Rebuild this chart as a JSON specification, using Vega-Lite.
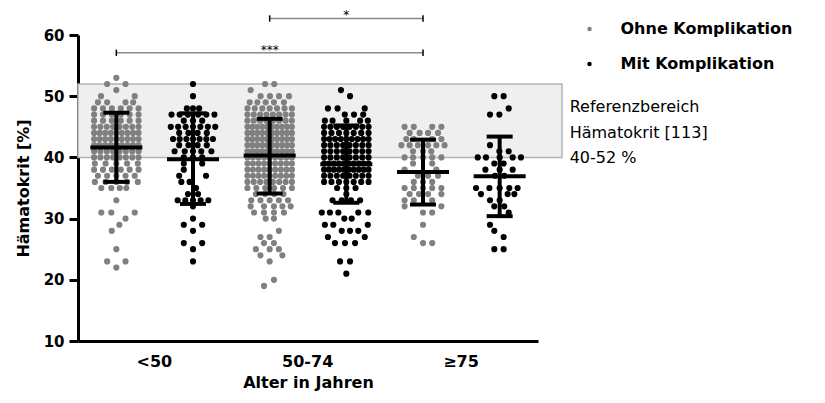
{
"$schema": "https://vega.github.io/schema/vega-lite/v6.json",
"width": 460, "height": 306,
"autosize": {"type": "none"},
"padding": {"left": 78, "top": 35, "right": 287, "bottom": 62},
"background": "white",
"config": {"view": {"stroke": null}, "font": "DejaVu Sans"},
"datasets": {
"dots": [
{"k":"A1","g":"O","v":53,"c":0},
{"k":"A1","g":"O","v":52,"c":-6},{"k":"A1","g":"O","v":52,"c":6},
{"k":"A1","g":"O","v":51,"c":0},
{"k":"A1","g":"O","v":50,"c":-10},{"k":"A1","g":"O","v":50,"c":12},
{"k":"A1","g":"O","v":49,"c":-12},{"k":"A1","g":"O","v":49,"c":-6},{"k":"A1","g":"O","v":49,"c":6},{"k":"A1","g":"O","v":49,"c":11},
{"k":"A1","g":"O","v":48,"c":-14.5},{"k":"A1","g":"O","v":48,"c":-8.7},{"k":"A1","g":"O","v":48,"c":-2.9},{"k":"A1","g":"O","v":48,"c":2.9},{"k":"A1","g":"O","v":48,"c":8.7},{"k":"A1","g":"O","v":48,"c":14.5},
{"k":"A1","g":"O","v":47,"c":-14.5},{"k":"A1","g":"O","v":47,"c":-8.7},{"k":"A1","g":"O","v":47,"c":-2.9},{"k":"A1","g":"O","v":47,"c":2.9},{"k":"A1","g":"O","v":47,"c":8.7},{"k":"A1","g":"O","v":47,"c":14.5},
{"k":"A1","g":"O","v":46,"c":-14.5},{"k":"A1","g":"O","v":46,"c":-8.7},{"k":"A1","g":"O","v":46,"c":-2.9},{"k":"A1","g":"O","v":46,"c":2.9},{"k":"A1","g":"O","v":46,"c":8.7},{"k":"A1","g":"O","v":46,"c":14.5},
{"k":"A1","g":"O","v":45,"c":-14.5},{"k":"A1","g":"O","v":45,"c":-10.4},{"k":"A1","g":"O","v":45,"c":-6.2},{"k":"A1","g":"O","v":45,"c":-2.1},{"k":"A1","g":"O","v":45,"c":2.1},{"k":"A1","g":"O","v":45,"c":6.2},{"k":"A1","g":"O","v":45,"c":10.4},{"k":"A1","g":"O","v":45,"c":14.5},
{"k":"A1","g":"O","v":44,"c":-14.5},{"k":"A1","g":"O","v":44,"c":-10.9},{"k":"A1","g":"O","v":44,"c":-7.3},{"k":"A1","g":"O","v":44,"c":-3.6},{"k":"A1","g":"O","v":44,"c":0},{"k":"A1","g":"O","v":44,"c":3.6},{"k":"A1","g":"O","v":44,"c":7.3},{"k":"A1","g":"O","v":44,"c":10.9},{"k":"A1","g":"O","v":44,"c":14.5},
{"k":"A1","g":"O","v":43,"c":-14.5},{"k":"A1","g":"O","v":43,"c":-10.9},{"k":"A1","g":"O","v":43,"c":-7.3},{"k":"A1","g":"O","v":43,"c":-3.6},{"k":"A1","g":"O","v":43,"c":0},{"k":"A1","g":"O","v":43,"c":3.6},{"k":"A1","g":"O","v":43,"c":7.3},{"k":"A1","g":"O","v":43,"c":10.9},{"k":"A1","g":"O","v":43,"c":14.5},
{"k":"A1","g":"O","v":42,"c":-14.5},{"k":"A1","g":"O","v":42,"c":-10.9},{"k":"A1","g":"O","v":42,"c":-7.3},{"k":"A1","g":"O","v":42,"c":-3.6},{"k":"A1","g":"O","v":42,"c":0},{"k":"A1","g":"O","v":42,"c":3.6},{"k":"A1","g":"O","v":42,"c":7.3},{"k":"A1","g":"O","v":42,"c":10.9},{"k":"A1","g":"O","v":42,"c":14.5},
{"k":"A1","g":"O","v":41,"c":-14.5},{"k":"A1","g":"O","v":41,"c":-10.4},{"k":"A1","g":"O","v":41,"c":-6.2},{"k":"A1","g":"O","v":41,"c":-2.1},{"k":"A1","g":"O","v":41,"c":2.1},{"k":"A1","g":"O","v":41,"c":6.2},{"k":"A1","g":"O","v":41,"c":10.4},{"k":"A1","g":"O","v":41,"c":14.5},
{"k":"A1","g":"O","v":40,"c":-14.5},{"k":"A1","g":"O","v":40,"c":-10.4},{"k":"A1","g":"O","v":40,"c":-6.2},{"k":"A1","g":"O","v":40,"c":-2.1},{"k":"A1","g":"O","v":40,"c":2.1},{"k":"A1","g":"O","v":40,"c":6.2},{"k":"A1","g":"O","v":40,"c":10.4},{"k":"A1","g":"O","v":40,"c":14.5},
{"k":"A1","g":"O","v":39,"c":-14},{"k":"A1","g":"O","v":39,"c":-7},{"k":"A1","g":"O","v":39,"c":0},{"k":"A1","g":"O","v":39,"c":7},{"k":"A1","g":"O","v":39,"c":14},
{"k":"A1","g":"O","v":38,"c":-14.5},{"k":"A1","g":"O","v":38,"c":-8.7},{"k":"A1","g":"O","v":38,"c":-2.9},{"k":"A1","g":"O","v":38,"c":2.9},{"k":"A1","g":"O","v":38,"c":8.7},{"k":"A1","g":"O","v":38,"c":14.5},
{"k":"A1","g":"O","v":37,"c":-12},{"k":"A1","g":"O","v":37,"c":-6},{"k":"A1","g":"O","v":37,"c":0},{"k":"A1","g":"O","v":37,"c":6},{"k":"A1","g":"O","v":37,"c":12},
{"k":"A1","g":"O","v":36,"c":-14},{"k":"A1","g":"O","v":36,"c":-7},{"k":"A1","g":"O","v":36,"c":0},{"k":"A1","g":"O","v":36,"c":7},{"k":"A1","g":"O","v":36,"c":14},
{"k":"A1","g":"O","v":35,"c":-9.8},{"k":"A1","g":"O","v":35,"c":-3.3},{"k":"A1","g":"O","v":35,"c":2.2},{"k":"A1","g":"O","v":35,"c":6.5},
{"k":"A1","g":"O","v":33,"c":0},
{"k":"A1","g":"O","v":31,"c":-9.8},{"k":"A1","g":"O","v":31,"c":-3.3},{"k":"A1","g":"O","v":31,"c":12},
{"k":"A1","g":"O","v":30,"c":6},
{"k":"A1","g":"O","v":29,"c":2},
{"k":"A1","g":"O","v":28,"c":-3},
{"k":"A1","g":"O","v":25,"c":0},
{"k":"A1","g":"O","v":23,"c":-6},{"k":"A1","g":"O","v":23,"c":6},
{"k":"A1","g":"O","v":22,"c":0},

{"k":"A2","g":"M","v":52,"c":0},
{"k":"A2","g":"M","v":50,"c":0},
{"k":"A2","g":"M","v":48,"c":-4},{"k":"A2","g":"M","v":48,"c":0},{"k":"A2","g":"M","v":48,"c":4},
{"k":"A2","g":"M","v":47,"c":-14},{"k":"A2","g":"M","v":47,"c":-8.7},{"k":"A2","g":"M","v":47,"c":-3.3},{"k":"A2","g":"M","v":47,"c":3.3},{"k":"A2","g":"M","v":47,"c":8.7},{"k":"A2","g":"M","v":47,"c":14},
{"k":"A2","g":"M","v":46,"c":-6},{"k":"A2","g":"M","v":46,"c":0},{"k":"A2","g":"M","v":46,"c":6},
{"k":"A2","g":"M","v":45,"c":-14.5},{"k":"A2","g":"M","v":45,"c":-9.7},{"k":"A2","g":"M","v":45,"c":-4.8},{"k":"A2","g":"M","v":45,"c":0},{"k":"A2","g":"M","v":45,"c":4.8},{"k":"A2","g":"M","v":45,"c":9.7},{"k":"A2","g":"M","v":45,"c":14.5},
{"k":"A2","g":"M","v":44,"c":-9},{"k":"A2","g":"M","v":44,"c":-3},{"k":"A2","g":"M","v":44,"c":3},{"k":"A2","g":"M","v":44,"c":9},
{"k":"A2","g":"M","v":43,"c":-13},{"k":"A2","g":"M","v":43,"c":-8.7},{"k":"A2","g":"M","v":43,"c":-4.3},{"k":"A2","g":"M","v":43,"c":0},{"k":"A2","g":"M","v":43,"c":4.3},{"k":"A2","g":"M","v":43,"c":8.7},{"k":"A2","g":"M","v":43,"c":13},
{"k":"A2","g":"M","v":42,"c":-9},{"k":"A2","g":"M","v":42,"c":-3},{"k":"A2","g":"M","v":42,"c":3},{"k":"A2","g":"M","v":42,"c":9},
{"k":"A2","g":"M","v":41,"c":-12},{"k":"A2","g":"M","v":41,"c":-5.4},{"k":"A2","g":"M","v":41,"c":0},{"k":"A2","g":"M","v":41,"c":5.4},{"k":"A2","g":"M","v":41,"c":12},
{"k":"A2","g":"M","v":40,"c":-6},{"k":"A2","g":"M","v":40,"c":0},{"k":"A2","g":"M","v":40,"c":6},
{"k":"A2","g":"M","v":39,"c":-6},{"k":"A2","g":"M","v":39,"c":6},
{"k":"A2","g":"M","v":38,"c":-6},
{"k":"A2","g":"M","v":37,"c":-9},{"k":"A2","g":"M","v":37,"c":8.5},
{"k":"A2","g":"M","v":36,"c":-7.6},{"k":"A2","g":"M","v":36,"c":-2.2},
{"k":"A2","g":"M","v":35,"c":2},
{"k":"A2","g":"M","v":34,"c":-3.3},{"k":"A2","g":"M","v":34,"c":3.3},
{"k":"A2","g":"M","v":33,"c":-10},{"k":"A2","g":"M","v":33,"c":-5},{"k":"A2","g":"M","v":33,"c":0},{"k":"A2","g":"M","v":33,"c":5},{"k":"A2","g":"M","v":33,"c":10},
{"k":"A2","g":"M","v":32,"c":0},
{"k":"A2","g":"M","v":30,"c":0},
{"k":"A2","g":"M","v":29,"c":-6},{"k":"A2","g":"M","v":29,"c":6},
{"k":"A2","g":"M","v":28,"c":0},
{"k":"A2","g":"M","v":26,"c":-6},{"k":"A2","g":"M","v":26,"c":6},
{"k":"A2","g":"M","v":25,"c":0},
{"k":"A2","g":"M","v":23,"c":0},

{"k":"B1","g":"O","v":52,"c":-3},{"k":"B1","g":"O","v":52,"c":3},
{"k":"B1","g":"O","v":51,"c":-12.4},
{"k":"B1","g":"O","v":50,"c":-5.9},{"k":"B1","g":"O","v":50,"c":0.2},{"k":"B1","g":"O","v":50,"c":6.1},{"k":"B1","g":"O","v":50,"c":12.6},
{"k":"B1","g":"O","v":49,"c":-13},{"k":"B1","g":"O","v":49,"c":-8},{"k":"B1","g":"O","v":49,"c":-2.6},{"k":"B1","g":"O","v":49,"c":2.8},{"k":"B1","g":"O","v":49,"c":9.3},
{"k":"B1","g":"O","v":48,"c":-14.5},{"k":"B1","g":"O","v":48,"c":-9.7},{"k":"B1","g":"O","v":48,"c":-4.8},{"k":"B1","g":"O","v":48,"c":0},{"k":"B1","g":"O","v":48,"c":4.8},{"k":"B1","g":"O","v":48,"c":9.7},{"k":"B1","g":"O","v":48,"c":14.5},
{"k":"B1","g":"O","v":47,"c":-14.5},{"k":"B1","g":"O","v":47,"c":-10.4},{"k":"B1","g":"O","v":47,"c":-6.2},{"k":"B1","g":"O","v":47,"c":-2.1},{"k":"B1","g":"O","v":47,"c":2.1},{"k":"B1","g":"O","v":47,"c":6.2},{"k":"B1","g":"O","v":47,"c":10.4},{"k":"B1","g":"O","v":47,"c":14.5},
{"k":"B1","g":"O","v":46,"c":-14.5},{"k":"B1","g":"O","v":46,"c":-10.4},{"k":"B1","g":"O","v":46,"c":-6.2},{"k":"B1","g":"O","v":46,"c":-2.1},{"k":"B1","g":"O","v":46,"c":2.1},{"k":"B1","g":"O","v":46,"c":6.2},{"k":"B1","g":"O","v":46,"c":10.4},{"k":"B1","g":"O","v":46,"c":14.5},
{"k":"B1","g":"O","v":45,"c":-14.5},{"k":"B1","g":"O","v":45,"c":-11.3},{"k":"B1","g":"O","v":45,"c":-8.1},{"k":"B1","g":"O","v":45,"c":-4.8},{"k":"B1","g":"O","v":45,"c":-1.6},{"k":"B1","g":"O","v":45,"c":1.6},{"k":"B1","g":"O","v":45,"c":4.8},{"k":"B1","g":"O","v":45,"c":8.1},{"k":"B1","g":"O","v":45,"c":11.3},{"k":"B1","g":"O","v":45,"c":14.5},
{"k":"B1","g":"O","v":44,"c":-14.5},{"k":"B1","g":"O","v":44,"c":-11.3},{"k":"B1","g":"O","v":44,"c":-8.1},{"k":"B1","g":"O","v":44,"c":-4.8},{"k":"B1","g":"O","v":44,"c":-1.6},{"k":"B1","g":"O","v":44,"c":1.6},{"k":"B1","g":"O","v":44,"c":4.8},{"k":"B1","g":"O","v":44,"c":8.1},{"k":"B1","g":"O","v":44,"c":11.3},{"k":"B1","g":"O","v":44,"c":14.5},
{"k":"B1","g":"O","v":43,"c":-14.5},{"k":"B1","g":"O","v":43,"c":-11.3},{"k":"B1","g":"O","v":43,"c":-8.1},{"k":"B1","g":"O","v":43,"c":-4.8},{"k":"B1","g":"O","v":43,"c":-1.6},{"k":"B1","g":"O","v":43,"c":1.6},{"k":"B1","g":"O","v":43,"c":4.8},{"k":"B1","g":"O","v":43,"c":8.1},{"k":"B1","g":"O","v":43,"c":11.3},{"k":"B1","g":"O","v":43,"c":14.5},
{"k":"B1","g":"O","v":42,"c":-14.5},{"k":"B1","g":"O","v":42,"c":-11.3},{"k":"B1","g":"O","v":42,"c":-8.1},{"k":"B1","g":"O","v":42,"c":-4.8},{"k":"B1","g":"O","v":42,"c":-1.6},{"k":"B1","g":"O","v":42,"c":1.6},{"k":"B1","g":"O","v":42,"c":4.8},{"k":"B1","g":"O","v":42,"c":8.1},{"k":"B1","g":"O","v":42,"c":11.3},{"k":"B1","g":"O","v":42,"c":14.5},
{"k":"B1","g":"O","v":41,"c":-14.5},{"k":"B1","g":"O","v":41,"c":-11.3},{"k":"B1","g":"O","v":41,"c":-8.1},{"k":"B1","g":"O","v":41,"c":-4.8},{"k":"B1","g":"O","v":41,"c":-1.6},{"k":"B1","g":"O","v":41,"c":1.6},{"k":"B1","g":"O","v":41,"c":4.8},{"k":"B1","g":"O","v":41,"c":8.1},{"k":"B1","g":"O","v":41,"c":11.3},{"k":"B1","g":"O","v":41,"c":14.5},
{"k":"B1","g":"O","v":40,"c":-14.5},{"k":"B1","g":"O","v":40,"c":-10.9},{"k":"B1","g":"O","v":40,"c":-7.3},{"k":"B1","g":"O","v":40,"c":-3.6},{"k":"B1","g":"O","v":40,"c":0},{"k":"B1","g":"O","v":40,"c":3.6},{"k":"B1","g":"O","v":40,"c":7.3},{"k":"B1","g":"O","v":40,"c":10.9},{"k":"B1","g":"O","v":40,"c":14.5},
{"k":"B1","g":"O","v":39,"c":-14.5},{"k":"B1","g":"O","v":39,"c":-10.9},{"k":"B1","g":"O","v":39,"c":-7.3},{"k":"B1","g":"O","v":39,"c":-3.6},{"k":"B1","g":"O","v":39,"c":0},{"k":"B1","g":"O","v":39,"c":3.6},{"k":"B1","g":"O","v":39,"c":7.3},{"k":"B1","g":"O","v":39,"c":10.9},{"k":"B1","g":"O","v":39,"c":14.5},
{"k":"B1","g":"O","v":38,"c":-14.5},{"k":"B1","g":"O","v":38,"c":-10.9},{"k":"B1","g":"O","v":38,"c":-7.3},{"k":"B1","g":"O","v":38,"c":-3.6},{"k":"B1","g":"O","v":38,"c":0},{"k":"B1","g":"O","v":38,"c":3.6},{"k":"B1","g":"O","v":38,"c":7.3},{"k":"B1","g":"O","v":38,"c":10.9},{"k":"B1","g":"O","v":38,"c":14.5},
{"k":"B1","g":"O","v":37,"c":-14.5},{"k":"B1","g":"O","v":37,"c":-10.9},{"k":"B1","g":"O","v":37,"c":-7.3},{"k":"B1","g":"O","v":37,"c":-3.6},{"k":"B1","g":"O","v":37,"c":0},{"k":"B1","g":"O","v":37,"c":3.6},{"k":"B1","g":"O","v":37,"c":7.3},{"k":"B1","g":"O","v":37,"c":10.9},{"k":"B1","g":"O","v":37,"c":14.5},
{"k":"B1","g":"O","v":36,"c":-14.5},{"k":"B1","g":"O","v":36,"c":-10.4},{"k":"B1","g":"O","v":36,"c":-6.2},{"k":"B1","g":"O","v":36,"c":-2.1},{"k":"B1","g":"O","v":36,"c":2.1},{"k":"B1","g":"O","v":36,"c":6.2},{"k":"B1","g":"O","v":36,"c":10.4},{"k":"B1","g":"O","v":36,"c":14.5},
{"k":"B1","g":"O","v":35,"c":-14.5},{"k":"B1","g":"O","v":35,"c":-8.7},{"k":"B1","g":"O","v":35,"c":-2.9},{"k":"B1","g":"O","v":35,"c":2.9},{"k":"B1","g":"O","v":35,"c":8.7},{"k":"B1","g":"O","v":35,"c":14.5},
{"k":"B1","g":"O","v":34,"c":-9},{"k":"B1","g":"O","v":34,"c":-3},{"k":"B1","g":"O","v":34,"c":3},{"k":"B1","g":"O","v":34,"c":9},
{"k":"B1","g":"O","v":33,"c":-12},{"k":"B1","g":"O","v":33,"c":-6},{"k":"B1","g":"O","v":33,"c":0},{"k":"B1","g":"O","v":33,"c":6},{"k":"B1","g":"O","v":33,"c":12},
{"k":"B1","g":"O","v":32,"c":-12.4},{"k":"B1","g":"O","v":32,"c":-3.7},{"k":"B1","g":"O","v":32,"c":2.8},{"k":"B1","g":"O","v":32,"c":8.3},{"k":"B1","g":"O","v":32,"c":13.7},
{"k":"B1","g":"O","v":31,"c":-10.2},{"k":"B1","g":"O","v":31,"c":-3.7},{"k":"B1","g":"O","v":31,"c":2.8},{"k":"B1","g":"O","v":31,"c":9.3},
{"k":"B1","g":"O","v":30,"c":-2.6},{"k":"B1","g":"O","v":30,"c":2.8},
{"k":"B1","g":"O","v":28,"c":6},
{"k":"B1","g":"O","v":27,"c":-6},{"k":"B1","g":"O","v":27,"c":0},
{"k":"B1","g":"O","v":26,"c":-3.7},{"k":"B1","g":"O","v":26,"c":2.8},
{"k":"B1","g":"O","v":25,"c":-9},{"k":"B1","g":"O","v":25,"c":0},{"k":"B1","g":"O","v":25,"c":6},
{"k":"B1","g":"O","v":24,"c":-6},{"k":"B1","g":"O","v":24,"c":8.3},
{"k":"B1","g":"O","v":23,"c":0},
{"k":"B1","g":"O","v":20,"c":2.8},
{"k":"B1","g":"O","v":19,"c":-3.7},

{"k":"B2","g":"M","v":51,"c":-3.5},
{"k":"B2","g":"M","v":50,"c":2.4},
{"k":"B2","g":"M","v":48,"c":-12},{"k":"B2","g":"M","v":48,"c":-5.7},{"k":"B2","g":"M","v":48,"c":12},
{"k":"B2","g":"M","v":47,"c":-1},{"k":"B2","g":"M","v":47,"c":5},{"k":"B2","g":"M","v":47,"c":11},
{"k":"B2","g":"M","v":46,"c":-14},{"k":"B2","g":"M","v":46,"c":-9},{"k":"B2","g":"M","v":46,"c":0},{"k":"B2","g":"M","v":46,"c":9},{"k":"B2","g":"M","v":46,"c":14},
{"k":"B2","g":"M","v":45,"c":-14.5},{"k":"B2","g":"M","v":45,"c":-10.4},{"k":"B2","g":"M","v":45,"c":-6.2},{"k":"B2","g":"M","v":45,"c":-2.1},{"k":"B2","g":"M","v":45,"c":2.1},{"k":"B2","g":"M","v":45,"c":6.2},{"k":"B2","g":"M","v":45,"c":10.4},{"k":"B2","g":"M","v":45,"c":14.5},
{"k":"B2","g":"M","v":44,"c":-14.5},{"k":"B2","g":"M","v":44,"c":-9.7},{"k":"B2","g":"M","v":44,"c":-4.8},{"k":"B2","g":"M","v":44,"c":0},{"k":"B2","g":"M","v":44,"c":4.8},{"k":"B2","g":"M","v":44,"c":9.7},{"k":"B2","g":"M","v":44,"c":14.5},
{"k":"B2","g":"M","v":43,"c":-14.5},{"k":"B2","g":"M","v":43,"c":-10.9},{"k":"B2","g":"M","v":43,"c":-7.3},{"k":"B2","g":"M","v":43,"c":-3.6},{"k":"B2","g":"M","v":43,"c":0},{"k":"B2","g":"M","v":43,"c":3.6},{"k":"B2","g":"M","v":43,"c":7.3},{"k":"B2","g":"M","v":43,"c":10.9},{"k":"B2","g":"M","v":43,"c":14.5},
{"k":"B2","g":"M","v":42,"c":-14.5},{"k":"B2","g":"M","v":42,"c":-10.4},{"k":"B2","g":"M","v":42,"c":-6.2},{"k":"B2","g":"M","v":42,"c":-2.1},{"k":"B2","g":"M","v":42,"c":2.1},{"k":"B2","g":"M","v":42,"c":6.2},{"k":"B2","g":"M","v":42,"c":10.4},{"k":"B2","g":"M","v":42,"c":14.5},
{"k":"B2","g":"M","v":41,"c":-14.5},{"k":"B2","g":"M","v":41,"c":-10.4},{"k":"B2","g":"M","v":41,"c":-6.2},{"k":"B2","g":"M","v":41,"c":-2.1},{"k":"B2","g":"M","v":41,"c":2.1},{"k":"B2","g":"M","v":41,"c":6.2},{"k":"B2","g":"M","v":41,"c":10.4},{"k":"B2","g":"M","v":41,"c":14.5},
{"k":"B2","g":"M","v":40,"c":-14.5},{"k":"B2","g":"M","v":40,"c":-10.4},{"k":"B2","g":"M","v":40,"c":-6.2},{"k":"B2","g":"M","v":40,"c":-2.1},{"k":"B2","g":"M","v":40,"c":2.1},{"k":"B2","g":"M","v":40,"c":6.2},{"k":"B2","g":"M","v":40,"c":10.4},{"k":"B2","g":"M","v":40,"c":14.5},
{"k":"B2","g":"M","v":39,"c":-14.5},{"k":"B2","g":"M","v":39,"c":-11.3},{"k":"B2","g":"M","v":39,"c":-8.1},{"k":"B2","g":"M","v":39,"c":-4.8},{"k":"B2","g":"M","v":39,"c":-1.6},{"k":"B2","g":"M","v":39,"c":1.6},{"k":"B2","g":"M","v":39,"c":4.8},{"k":"B2","g":"M","v":39,"c":8.1},{"k":"B2","g":"M","v":39,"c":11.3},{"k":"B2","g":"M","v":39,"c":14.5},
{"k":"B2","g":"M","v":38,"c":-14.5},{"k":"B2","g":"M","v":38,"c":-11.3},{"k":"B2","g":"M","v":38,"c":-8.1},{"k":"B2","g":"M","v":38,"c":-4.8},{"k":"B2","g":"M","v":38,"c":-1.6},{"k":"B2","g":"M","v":38,"c":1.6},{"k":"B2","g":"M","v":38,"c":4.8},{"k":"B2","g":"M","v":38,"c":8.1},{"k":"B2","g":"M","v":38,"c":11.3},{"k":"B2","g":"M","v":38,"c":14.5},
{"k":"B2","g":"M","v":37,"c":-14.5},{"k":"B2","g":"M","v":37,"c":-10.4},{"k":"B2","g":"M","v":37,"c":-6.2},{"k":"B2","g":"M","v":37,"c":-2.1},{"k":"B2","g":"M","v":37,"c":2.1},{"k":"B2","g":"M","v":37,"c":6.2},{"k":"B2","g":"M","v":37,"c":10.4},{"k":"B2","g":"M","v":37,"c":14.5},
{"k":"B2","g":"M","v":36,"c":-14.5},{"k":"B2","g":"M","v":36,"c":-9.7},{"k":"B2","g":"M","v":36,"c":-4.8},{"k":"B2","g":"M","v":36,"c":0},{"k":"B2","g":"M","v":36,"c":4.8},{"k":"B2","g":"M","v":36,"c":9.7},{"k":"B2","g":"M","v":36,"c":14.5},
{"k":"B2","g":"M","v":35,"c":-6},{"k":"B2","g":"M","v":35,"c":0},{"k":"B2","g":"M","v":35,"c":6},
{"k":"B2","g":"M","v":34,"c":0},
{"k":"B2","g":"M","v":33,"c":-9},{"k":"B2","g":"M","v":33,"c":-3},{"k":"B2","g":"M","v":33,"c":3},{"k":"B2","g":"M","v":33,"c":9},
{"k":"B2","g":"M","v":31,"c":-16},{"k":"B2","g":"M","v":31,"c":-10.7},{"k":"B2","g":"M","v":31,"c":-5.2},{"k":"B2","g":"M","v":31,"c":7.8},{"k":"B2","g":"M","v":31,"c":14.3},
{"k":"B2","g":"M","v":30,"c":-1.3},{"k":"B2","g":"M","v":30,"c":3.5},
{"k":"B2","g":"M","v":29,"c":-14},{"k":"B2","g":"M","v":29,"c":-8.5},{"k":"B2","g":"M","v":29,"c":14},
{"k":"B2","g":"M","v":28,"c":-3},{"k":"B2","g":"M","v":28,"c":2.4},{"k":"B2","g":"M","v":28,"c":7.8},
{"k":"B2","g":"M","v":27,"c":-12},{"k":"B2","g":"M","v":27,"c":12},
{"k":"B2","g":"M","v":26,"c":-7.4},{"k":"B2","g":"M","v":26,"c":-0.9},{"k":"B2","g":"M","v":26,"c":5.7},
{"k":"B2","g":"M","v":23,"c":-4.1},{"k":"B2","g":"M","v":23,"c":2.4},
{"k":"B2","g":"M","v":21,"c":0},

{"k":"C1","g":"O","v":45,"c":-12},{"k":"C1","g":"O","v":45,"c":-6},{"k":"C1","g":"O","v":45,"c":6},{"k":"C1","g":"O","v":45,"c":12},
{"k":"C1","g":"O","v":44,"c":-8.7},{"k":"C1","g":"O","v":44,"c":-2.2},{"k":"C1","g":"O","v":44,"c":3.3},{"k":"C1","g":"O","v":44,"c":9.8},
{"k":"C1","g":"O","v":43,"c":-10.9},{"k":"C1","g":"O","v":43,"c":-6},{"k":"C1","g":"O","v":43,"c":6},{"k":"C1","g":"O","v":43,"c":12},
{"k":"C1","g":"O","v":42,"c":-14.1},{"k":"C1","g":"O","v":42,"c":-8.7},{"k":"C1","g":"O","v":42,"c":-3.3},{"k":"C1","g":"O","v":42,"c":3.3},{"k":"C1","g":"O","v":42,"c":8.7},{"k":"C1","g":"O","v":42,"c":14.1},
{"k":"C1","g":"O","v":41,"c":-6.5},{"k":"C1","g":"O","v":41,"c":0},{"k":"C1","g":"O","v":41,"c":5.4},
{"k":"C1","g":"O","v":40,"c":-12},{"k":"C1","g":"O","v":40,"c":-6.5},{"k":"C1","g":"O","v":40,"c":0},{"k":"C1","g":"O","v":40,"c":6},{"k":"C1","g":"O","v":40,"c":12},
{"k":"C1","g":"O","v":39,"c":-6.5},{"k":"C1","g":"O","v":39,"c":6},
{"k":"C1","g":"O","v":38,"c":-12},{"k":"C1","g":"O","v":38,"c":8.7},
{"k":"C1","g":"O","v":37,"c":-3.3},{"k":"C1","g":"O","v":37,"c":3.3},{"k":"C1","g":"O","v":37,"c":9.8},
{"k":"C1","g":"O","v":36,"c":-6},{"k":"C1","g":"O","v":36,"c":0},{"k":"C1","g":"O","v":36,"c":6},
{"k":"C1","g":"O","v":35,"c":-12},{"k":"C1","g":"O","v":35,"c":-6},{"k":"C1","g":"O","v":35,"c":0},{"k":"C1","g":"O","v":35,"c":6},{"k":"C1","g":"O","v":35,"c":12},
{"k":"C1","g":"O","v":34,"c":-8.7},{"k":"C1","g":"O","v":34,"c":-2.6},{"k":"C1","g":"O","v":34,"c":3.3},{"k":"C1","g":"O","v":34,"c":12},
{"k":"C1","g":"O","v":33,"c":-12},{"k":"C1","g":"O","v":33,"c":-6},{"k":"C1","g":"O","v":33,"c":6},
{"k":"C1","g":"O","v":32,"c":-12},{"k":"C1","g":"O","v":32,"c":12},
{"k":"C1","g":"O","v":31,"c":0},{"k":"C1","g":"O","v":31,"c":6},
{"k":"C1","g":"O","v":29,"c":0},
{"k":"C1","g":"O","v":27,"c":-6},
{"k":"C1","g":"O","v":26,"c":0},{"k":"C1","g":"O","v":26,"c":6},

{"k":"C2","g":"M","v":50,"c":-3.5},{"k":"C2","g":"M","v":50,"c":2.6},
{"k":"C2","g":"M","v":48,"c":5.9},
{"k":"C2","g":"M","v":47,"c":-6.3},{"k":"C2","g":"M","v":47,"c":-0.2},
{"k":"C2","g":"M","v":42,"c":-6.3},
{"k":"C2","g":"M","v":41,"c":-0.2},{"k":"C2","g":"M","v":41,"c":5.9},
{"k":"C2","g":"M","v":40,"c":-14.3},{"k":"C2","g":"M","v":40,"c":-8.9},{"k":"C2","g":"M","v":40,"c":0},{"k":"C2","g":"M","v":40,"c":8.5},{"k":"C2","g":"M","v":40,"c":13.9},
{"k":"C2","g":"M","v":39,"c":-3.5},{"k":"C2","g":"M","v":39,"c":2.6},
{"k":"C2","g":"M","v":38,"c":-9.3},{"k":"C2","g":"M","v":38,"c":0},{"k":"C2","g":"M","v":38,"c":8.5},
{"k":"C2","g":"M","v":37,"c":-3},{"k":"C2","g":"M","v":37,"c":3},
{"k":"C2","g":"M","v":35,"c":-15.4},{"k":"C2","g":"M","v":35,"c":-6.7},{"k":"C2","g":"M","v":35,"c":0},{"k":"C2","g":"M","v":35,"c":6.3},{"k":"C2","g":"M","v":35,"c":11.7},
{"k":"C2","g":"M","v":34,"c":-12.2},{"k":"C2","g":"M","v":34,"c":5.2},{"k":"C2","g":"M","v":34,"c":9.6},
{"k":"C2","g":"M","v":33,"c":-6.3},{"k":"C2","g":"M","v":33,"c":0},
{"k":"C2","g":"M","v":32,"c":-3.5},{"k":"C2","g":"M","v":32,"c":3},
{"k":"C2","g":"M","v":31,"c":5.9},
{"k":"C2","g":"M","v":29,"c":-6.3},
{"k":"C2","g":"M","v":28,"c":-3.5},
{"k":"C2","g":"M","v":27,"c":2.6},
{"k":"C2","g":"M","v":25,"c":-3.5},{"k":"C2","g":"M","v":25,"c":2.6}
],
"stats": [
{"k":"A1","m":41.6,"lo":36.0,"hi":47.3},
{"k":"A2","m":39.7,"lo":32.4,"hi":47.2},
{"k":"B1","m":40.3,"lo":34.1,"hi":46.3},
{"k":"B2","m":38.9,"lo":32.6,"hi":45.2},
{"k":"C1","m":37.6,"lo":32.3,"hi":42.9},
{"k":"C2","m":36.9,"lo":30.4,"hi":43.4}
],
"band": [{"lo":40,"hi":52,"t":"Referenzbereich\nHämatokrit [113]\n40-52 %"}],
"sig": [
{"x1":"A1","x2":"C1","mid":"B1","y":57.1,"lab":"***"},
{"x1":"B1","x2":"C1","mid":"B2","y":62.7,"lab":"*"}
]
},
"encoding": {
"x": {"field": "k", "type": "nominal", "scale": {"domain": ["A1","A2","B1","B2","C1","C2"], "paddingInner": 0, "paddingOuter": 0},
"axis": {"title": "Alter in Jahren", "ticks": false, "grid": false, "domainColor": "black", "domainWidth": 3, "labelAngle": 0, "labelOverlap": false,
"labelExpr": "datum.value == 'A1' ? '<50' : datum.value == 'B1' ? '50-74' : datum.value == 'C1' ? '≥75' : ''",
"labelOffset": 38, "labelPadding": 12, "labelFont": "DejaVu Sans", "labelFontSize": 16, "labelFontWeight": "bold", "labelColor": "black",
"titleFont": "DejaVu Sans", "titleFontSize": 16, "titleFontWeight": "bold", "titleColor": "black", "titlePadding": 5}},
"y": {"field": "v", "type": "quantitative", "scale": {"domain": [10, 60], "nice": false, "zero": false},
"axis": {"title": "Hämatokrit [%]", "values": [10,20,30,40,50,60], "grid": false, "domainColor": "black", "domainWidth": 3, "tickColor": "black", "tickWidth": 3, "tickSize": 9,
"labelFont": "DejaVu Sans", "labelFontSize": 15, "labelFontWeight": "bold", "labelColor": "black", "labelPadding": 5,
"titleFont": "DejaVu Sans", "titleFontSize": 16, "titleFontWeight": "bold", "titleColor": "black", "titlePadding": 12}}
},
"layer": [
{
"data": {"name": "dots"},
"layer": [
{
"data": {"name": "band"},
"mark": {"type": "rect", "fill": "#efefef", "stroke": "#b4b4b4", "strokeWidth": 1.5, "x2Offset": 24},
"encoding": {
"x": {"datum": "A1", "type": "nominal", "bandPosition": 0},
"x2": {"datum": "C2", "bandPosition": 1},
"y": {"field": "lo", "type": "quantitative"},
"y2": {"field": "hi"}
}
},
{
"mark": {"type": "point", "filled": true, "size": 38, "opacity": 1, "strokeWidth": 0},
"encoding": {
"xOffset": {"field": "c", "type": "quantitative", "scale": {"domain": [-25, 25], "nice": false, "zero": false}},
"color": {"field": "g", "type": "nominal", "scale": {"domain": ["O","M"], "range": ["#808080","#000000"]},
"legend": {"orient": "none", "legendX": 503.5, "legendY": -14, "title": null, "padding": 0, "symbolType": "circle", "symbolSize": 20, "symbolStrokeWidth": 0,
"labelFont": "DejaVu Sans", "labelFontSize": 16, "labelFontWeight": "bold", "labelColor": "black", "labelOffset": 23, "rowPadding": 19, "labelLimit": 400,
"labelExpr": "datum.value == 'O' ? 'Ohne Komplikation' : 'Mit Komplikation'"}}
}
}
]
},
{
"data": {"name": "stats"},
"layer": [
{"mark": {"type": "rule", "strokeWidth": 4, "color": "black"}, "encoding": {"y": {"field": "lo", "type": "quantitative"}, "y2": {"field": "hi"}}},
{"mark": {"type": "tick", "size": 26, "thickness": 4, "color": "black", "opacity": 1}, "encoding": {"y": {"field": "lo", "type": "quantitative"}}},
{"mark": {"type": "tick", "size": 26, "thickness": 4, "color": "black", "opacity": 1}, "encoding": {"y": {"field": "hi", "type": "quantitative"}}},
{"mark": {"type": "tick", "size": 52, "thickness": 4, "color": "black", "opacity": 1}, "encoding": {"y": {"field": "m", "type": "quantitative"}}}
]
},
{
"data": {"name": "sig"},
"layer": [
{"mark": {"type": "rule", "strokeWidth": 1.5, "color": "#8a8a8a"}, "encoding": {"x": {"field": "x1", "type": "nominal"}, "x2": {"field": "x2"}, "y": {"field": "y", "type": "quantitative"}}},
{"mark": {"type": "point", "shape": "M0,-1L0,1", "size": 40, "filled": false, "stroke": "black", "strokeWidth": 1.5, "opacity": 1}, "encoding": {"x": {"field": "x1", "type": "nominal"}, "y": {"field": "y", "type": "quantitative"}}},
{"mark": {"type": "point", "shape": "M0,-1L0,1", "size": 40, "filled": false, "stroke": "black", "strokeWidth": 1.5, "opacity": 1}, "encoding": {"x": {"field": "x2", "type": "nominal"}, "y": {"field": "y", "type": "quantitative"}}},
{"mark": {"type": "text", "fontSize": 12, "font": "DejaVu Sans", "color": "black", "baseline": "alphabetic", "align": "center", "dy": 1}, "encoding": {"x": {"field": "mid", "type": "nominal"}, "y": {"field": "y", "type": "quantitative"}, "text": {"field": "lab"}}}
]
},
{
"data": {"name": "band"},
"mark": {"type": "text", "fontSize": 16, "font": "DejaVu Sans", "color": "black", "align": "left", "baseline": "top", "dx": 70, "dy": 15, "lineBreak": "\n", "lineHeight": 25.6},
"encoding": {
"x": {"datum": "C2", "type": "nominal"},
"y": {"field": "hi", "type": "quantitative"},
"text": {"field": "t"}
}
}
]
}
